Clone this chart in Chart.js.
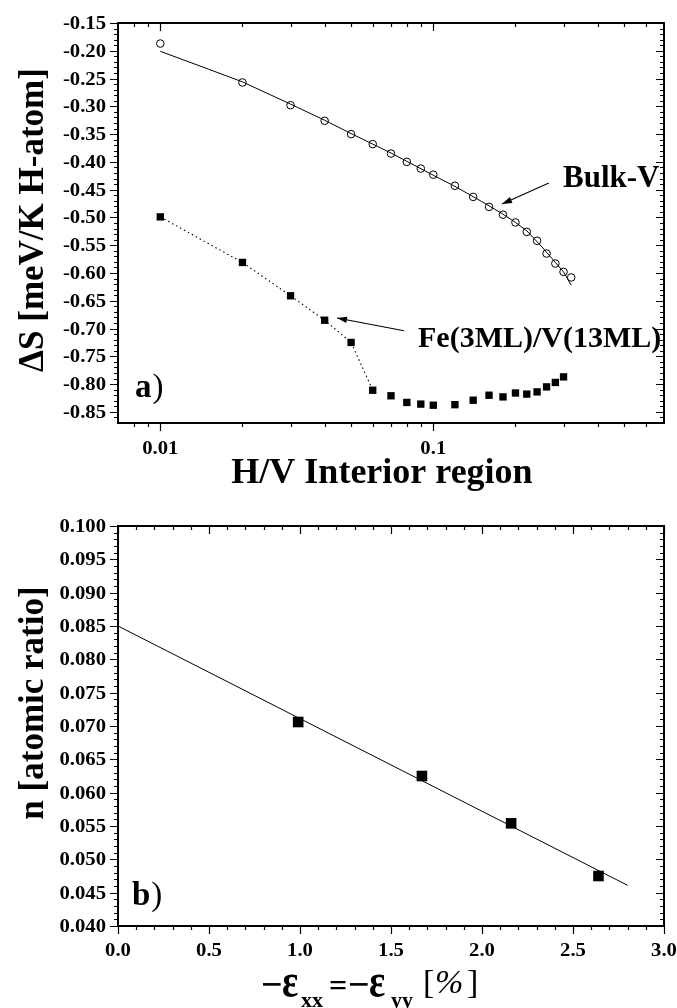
<!DOCTYPE html>
<html><head><meta charset="utf-8">
<script src="https://cdn.jsdelivr.net/npm/chart.js@4.4.1/dist/chart.umd.min.js"></script>
<style>
html,body{margin:0;padding:0;background:#fff;}
#wrap{position:relative;width:677px;height:1008px;overflow:hidden;}
canvas{position:absolute;left:0;}
#c1{top:0;} #c2{top:500px;}
</style></head><body>
<div id="wrap">
<canvas id="c1" width="677" height="500"></canvas>
<canvas id="c2" width="677" height="508"></canvas>
</div>
<script>
// ---------- panel a) data ----------
const bulkX = [0.01,0.02,0.03,0.04,0.05,0.06,0.07,0.08,0.09,0.10,0.12,0.14,0.16,0.18,0.20,0.22,0.24,0.26,0.28,0.30,0.32];
const bulkY = [-0.187,-0.257,-0.298,-0.326,-0.350,-0.368,-0.385,-0.400,-0.412,-0.423,-0.443,-0.463,-0.481,-0.495,-0.509,-0.526,-0.542,-0.565,-0.583,-0.598,-0.608];
const bulkFitX = [0.01,0.015,0.02,0.03,0.04,0.05,0.06,0.07,0.08,0.10,0.12,0.15,0.18,0.20,0.22,0.25,0.28,0.30,0.32];
const bulkFitY = [-0.201,-0.233,-0.256,-0.296,-0.325,-0.349,-0.368,-0.384,-0.399,-0.424,-0.444,-0.471,-0.494,-0.509,-0.524,-0.553,-0.581,-0.598,-0.622];
const feX = [0.01,0.02,0.03,0.04,0.05,0.06,0.07,0.08,0.09,0.10,0.12,0.14,0.16,0.18,0.20,0.22,0.24,0.26,0.28,0.30];
const feY = [-0.499,-0.581,-0.641,-0.685,-0.725,-0.811,-0.821,-0.833,-0.836,-0.838,-0.837,-0.829,-0.820,-0.823,-0.816,-0.818,-0.814,-0.805,-0.797,-0.787];
const feDottedCount = 6;
const topXTicks = [0.01, 0.1];
const topXTickLabels = ['0.01', '0.1'];
const topYTicks = [-0.15,-0.20,-0.25,-0.30,-0.35,-0.40,-0.45,-0.50,-0.55,-0.60,-0.65,-0.70,-0.75,-0.80,-0.85];
const topYTickLabels = ['-0.15','-0.20','-0.25','-0.30','-0.35','-0.40','-0.45','-0.50','-0.55','-0.60','-0.65','-0.70','-0.75','-0.80','-0.85'];
const topXTitle = 'H/V Interior region';
const topYTitle = 'ΔS [meV/K H-atom]';
const labelBulk = 'Bulk-V';
const labelFe = 'Fe(3ML)/V(13ML)';
// annotation anchors in data coordinates
const bulkArrow = {x1:0.265, y1:-0.438, x2:0.1785, y2:-0.476};
const bulkText = {x:0.2986, y:-0.445};
const feArrow = {x1:0.0781, y1:-0.704, x2:0.0444, y2:-0.681};
const feText = {x:0.0879, y:-0.733};

// ---------- panel b) data ----------
const strainX = [0.99, 1.67, 2.16, 2.64];
const nY = [0.0706, 0.0625, 0.0554, 0.0475];
const fitStrainX = [0.0, 2.8];
const fitNY = [0.085, 0.0461];
const botXTicks = [0.0,0.5,1.0,1.5,2.0,2.5,3.0];
const botXTickLabels = ['0.0','0.5','1.0','1.5','2.0','2.5','3.0'];
const botYTicks = [0.100,0.095,0.090,0.085,0.080,0.075,0.070,0.065,0.060,0.055,0.050,0.045,0.040];
const botYTickLabels = ['0.100','0.095','0.090','0.085','0.080','0.075','0.070','0.065','0.060','0.055','0.050','0.045','0.040'];
const botYTitle = 'n [atomic ratio]';

const SERIF = '"Liberation Serif","Times New Roman",serif';
const pts = (xs, ys) => xs.map((x, i) => ({x, y: ys[i]}));

function stretchText(ctx, txt, x, y, align, sx, sy) {
  ctx.save(); ctx.translate(x, y); ctx.scale(sx, sy || 1);
  ctx.textAlign = align; ctx.fillText(txt, 0, 0); ctx.restore();
}
function hTick(ctx, a, y, len) { // left axis outward, right axis inward (both to the left)
  y = Math.round(y) + 0.5;
  ctx.moveTo(a.left - len, y); ctx.lineTo(a.left, y);
  ctx.moveTo(a.right - len, y); ctx.lineTo(a.right, y);
}
function vTick(ctx, a, x, len) { // top inward, bottom outward (both downward)
  x = Math.round(x) + 0.5;
  ctx.moveTo(x, a.top); ctx.lineTo(x, a.top + len);
  ctx.moveTo(x, a.bottom); ctx.lineTo(x, a.bottom + len);
}
function arrow(ctx, x1, y1, x2, y2) {
  ctx.beginPath(); ctx.moveTo(x1, y1); ctx.lineTo(x2, y2); ctx.stroke();
  const ang = Math.atan2(y2 - y1, x2 - x1), L = 10, W = 3.2;
  ctx.beginPath();
  ctx.moveTo(x2, y2);
  ctx.lineTo(x2 - L*Math.cos(ang) + W*Math.sin(ang), y2 - L*Math.sin(ang) - W*Math.cos(ang));
  ctx.lineTo(x2 - L*Math.cos(ang) - W*Math.sin(ang), y2 - L*Math.sin(ang) + W*Math.cos(ang));
  ctx.closePath(); ctx.fill();
}
function frameAndTicks(ctx, a, xMajor, xMinor, yMajor, yMinor, xs, ys) {
  ctx.strokeStyle = '#000'; ctx.fillStyle = '#000';
  ctx.lineWidth = 1.2;
  ctx.beginPath();
  yMinor.forEach(v => hTick(ctx, a, ys.getPixelForValue(v), 4));
  yMajor.forEach(v => hTick(ctx, a, ys.getPixelForValue(v), 8));
  xMinor.forEach(v => vTick(ctx, a, xs.getPixelForValue(v), 4));
  xMajor.forEach(v => vTick(ctx, a, xs.getPixelForValue(v), 8));
  ctx.stroke();
  ctx.lineWidth = 2;
  ctx.strokeRect(a.left, a.top, a.right - a.left, a.bottom - a.top);
}

// ---------- panel a) ----------
const plugA = {
  id: 'panelA',
  afterDraw(chart) {
    const {ctx, chartArea: a, scales: {x: xs, y: ys}} = chart;
    ctx.save();
    const yMinor = [];
    for (let k = -86; k <= -16; k++) if (k % 5 !== 0) yMinor.push(k / 100);
    const xMinor = [];
    [0.001, 0.01, 0.1].forEach(d => { for (let m = 2; m <= 9; m++) { const v = +(m*d).toFixed(4); if (v > 0.007 && v < 0.7) xMinor.push(v); } });
    frameAndTicks(ctx, a, topXTicks, xMinor, topYTicks, yMinor, xs, ys);
    // tick labels
    ctx.font = 'bold 18px ' + SERIF; ctx.textBaseline = 'alphabetic';
    topYTicks.forEach((v, i) => stretchText(ctx, topYTickLabels[i], 106, ys.getPixelForValue(v) + 6, 'right', 1.15));
    topXTicks.forEach((v, i) => stretchText(ctx, topXTickLabels[i], xs.getPixelForValue(v), 454, 'center', 1.15));
    // axis titles
    ctx.font = 'bold 36px ' + SERIF;
    ctx.textAlign = 'center';
    ctx.fillText(topXTitle, 382, 483);
    ctx.font = 'bold 35px ' + SERIF;
    ctx.save(); ctx.translate(43, 220); ctx.rotate(-Math.PI/2); ctx.fillText(topYTitle, 0, 0); ctx.restore();
    // annotations
    ctx.font = 'bold 31px ' + SERIF; ctx.textAlign = 'left';
    ctx.fillText(labelBulk, xs.getPixelForValue(bulkText.x), ys.getPixelForValue(bulkText.y));
    ctx.font = 'bold 30px ' + SERIF;
    ctx.fillText(labelFe, xs.getPixelForValue(feText.x), ys.getPixelForValue(feText.y));
    ctx.lineWidth = 1.1;
    arrow(ctx, xs.getPixelForValue(bulkArrow.x1), ys.getPixelForValue(bulkArrow.y1), xs.getPixelForValue(bulkArrow.x2), ys.getPixelForValue(bulkArrow.y2));
    arrow(ctx, xs.getPixelForValue(feArrow.x1), ys.getPixelForValue(feArrow.y1), xs.getPixelForValue(feArrow.x2), ys.getPixelForValue(feArrow.y2));
    // panel tag
    ctx.font = 'bold 33px ' + SERIF;
    ctx.fillText('a', a.left + 17, a.bottom - 26);
    const w = ctx.measureText('a').width;
    ctx.font = '33px ' + SERIF;
    ctx.fillText(')', a.left + 17 + w + 1, a.bottom - 26);
    ctx.restore();
  }
};

new Chart(document.getElementById('c1'), {
  type: 'scatter',
  data: { datasets: [
    { data: pts(bulkFitX, bulkFitY), showLine: true, borderColor: '#000', borderWidth: 1, pointRadius: 0, fill: false, tension: 0 },
    { data: pts(bulkX, bulkY), showLine: false, pointStyle: 'circle', pointRadius: 3.8, borderColor: '#000', backgroundColor: 'rgba(0,0,0,0)', borderWidth: 1 },
    { data: pts(feX.slice(0, feDottedCount), feY.slice(0, feDottedCount)), showLine: true, borderColor: '#000', borderWidth: 1.1, borderDash: [1.5, 3], pointRadius: 0, fill: false },
    { data: pts(feX, feY), showLine: false, pointStyle: 'rect', pointRadius: 5.2, borderWidth: 0, backgroundColor: '#000', borderColor: '#000' }
  ]},
  options: {
    responsive: false, animation: false, events: [],
    layout: { padding: { left: 118, top: 23, right: 13, bottom: 77 } },
    plugins: { legend: { display: false }, tooltip: { enabled: false } },
    scales: {
      x: { type: 'logarithmic', min: 0.007, max: 0.7, display: false },
      y: { type: 'linear', min: -0.87, max: -0.15, display: false }
    }
  },
  plugins: [plugA]
});

// ---------- panel b) ----------
const plugB = {
  id: 'panelB',
  afterDraw(chart) {
    const {ctx, chartArea: a, scales: {x: xs, y: ys}} = chart;
    ctx.save();
    const yMinor = [];
    for (let k = 41; k <= 99; k++) if (k % 5 !== 0) yMinor.push(k / 1000);
    const xMinor = [];
    for (let k = 1; k <= 29; k++) if (k % 5 !== 0) xMinor.push(k / 10);
    frameAndTicks(ctx, a, botXTicks, xMinor, botYTicks, yMinor, xs, ys);
    ctx.font = 'bold 18px ' + SERIF; ctx.textBaseline = 'alphabetic';
    botYTicks.forEach((v, i) => stretchText(ctx, botYTickLabels[i], 106, ys.getPixelForValue(v) + 6, 'right', 1.15));
    botXTicks.forEach((v, i) => stretchText(ctx, botXTickLabels[i], xs.getPixelForValue(v), 456, 'center', 1.15));
    // y title
    ctx.font = 'bold 35px ' + SERIF; ctx.textAlign = 'center';
    ctx.save(); ctx.translate(43, 203); ctx.rotate(-Math.PI/2); ctx.fillText(botYTitle, 0, 0); ctx.restore();
    // x title: −ε_xx = −ε_yy [%]
    ctx.textAlign = 'left';
    ctx.font = 'bold 38px ' + SERIF;
    ctx.fillText('−', 261, 497);
    stretchText(ctx, 'ε', 282, 497, 'left', 1.0, 1.3);
    ctx.font = 'bold 22px ' + SERIF;
    ctx.fillText('xx', 301, 507);
    ctx.font = 'bold 32px ' + SERIF;
    ctx.fillText('=', 329, 496);
    ctx.font = 'bold 38px ' + SERIF;
    ctx.fillText('−', 348, 497);
    stretchText(ctx, 'ε', 369, 497, 'left', 1.0, 1.3);
    ctx.font = 'bold 22px ' + SERIF;
    ctx.fillText('yy', 391, 507);
    ctx.font = '34px ' + SERIF;
    ctx.fillText('[', 423, 493);
    ctx.font = 'italic 34px ' + SERIF;
    ctx.fillText('%', 435, 493);
    ctx.font = '34px ' + SERIF;
    ctx.fillText(']', 467, 493);
    // panel tag
    ctx.font = 'bold 33px ' + SERIF;
    ctx.fillText('b', a.left + 14, a.bottom - 21);
    const w = ctx.measureText('b').width;
    ctx.font = '33px ' + SERIF;
    ctx.fillText(')', a.left + 14 + w + 1, a.bottom - 21);
    ctx.restore();
  }
};

new Chart(document.getElementById('c2'), {
  type: 'scatter',
  data: { datasets: [
    { data: pts(fitStrainX, fitNY), showLine: true, borderColor: '#000', borderWidth: 1, pointRadius: 0, fill: false },
    { data: pts(strainX, nY), showLine: false, pointStyle: 'rect', pointRadius: 7.5, borderWidth: 0, backgroundColor: '#000', borderColor: '#000' }
  ]},
  options: {
    responsive: false, animation: false, events: [],
    layout: { padding: { left: 118, top: 26, right: 13, bottom: 82 } },
    plugins: { legend: { display: false }, tooltip: { enabled: false } },
    scales: {
      x: { type: 'linear', min: 0, max: 3, display: false },
      y: { type: 'linear', min: 0.04, max: 0.1, display: false }
    }
  },
  plugins: [plugB]
});
</script>
</body></html>
